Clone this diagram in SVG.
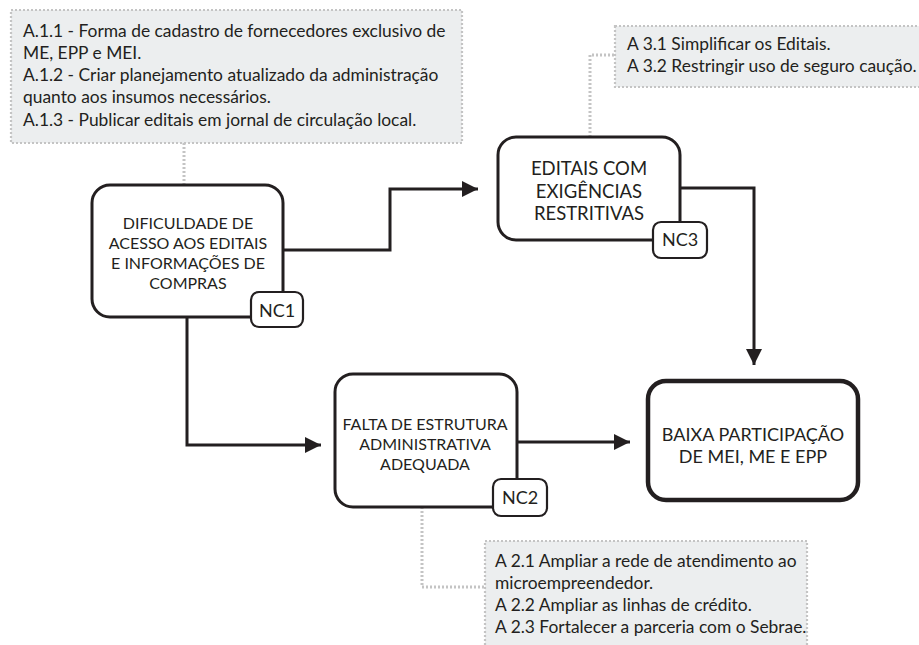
<svg xmlns="http://www.w3.org/2000/svg" width="919" height="645" viewBox="0 0 919 645">
<defs>
<style>
.note{fill:#eceeef;stroke:#c4c4c4;stroke-width:2.2;stroke-dasharray:2 2}
.node{fill:#fff;stroke:#231f20;stroke-width:3}
.final{fill:#fff;stroke:#231f20;stroke-width:4.5}
.tag{fill:#fff;stroke:#231f20;stroke-width:2.2}
.t{font-family:Lato,"Open Sans",sans-serif;fill:#231f20}
.nt{font-size:17.4px}
.ct{font-size:16px;text-anchor:middle}
.ct3{font-size:18.5px;text-anchor:middle}
.lt{font-size:18px;text-anchor:middle}
.ft{font-size:18px;text-anchor:middle}
.conn{fill:none;stroke:#231f20;stroke-width:3}
.dot{fill:none;stroke:#c4c4c4;stroke-width:3;stroke-dasharray:2 2}
</style>
<marker id="arr" markerUnits="userSpaceOnUse" markerWidth="16" markerHeight="16" viewBox="0 0 16 16" refX="16" refY="8" orient="auto">
<path d="M0,0 L16,8 L0,16 Z" fill="#231f20"/>
</marker>
</defs>

<g id="connectors">
<path class="conn" d="M283,250 H390 V189 H478" marker-end="url(#arr)"/>
<path class="conn" d="M187,317 V445 H321" marker-end="url(#arr)"/>
<path class="conn" d="M517,442 H630" marker-end="url(#arr)"/>
<path class="conn" d="M680,188 H754 V365" marker-end="url(#arr)"/>
<path class="dot" d="M184,143 V185"/>
<path class="dot" d="M590,137 V55 H615"/>
<path class="dot" d="M422,507 V587 H485"/>
</g>

<g id="note-a1">
<rect class="note" x="11" y="10" width="451" height="133"/>
<text class="t nt" x="23" y="37">A.1.1 - Forma de cadastro de fornecedores exclusivo de</text>
<text class="t nt" x="23" y="59">ME, EPP e MEI.</text>
<text class="t nt" x="23" y="81">A.1.2 - Criar planejamento atualizado da administração</text>
<text class="t nt" x="23" y="103">quanto aos insumos necessários.</text>
<text class="t nt" x="23" y="126">A.1.3 - Publicar editais em jornal de circulação local.</text>
</g>

<g id="note-a3">
<rect class="note" x="615" y="26" width="320" height="61"/>
<text class="t nt" x="627" y="50">A 3.1 Simplificar os Editais.</text>
<text class="t nt" x="627" y="72">A 3.2 Restringir uso de seguro caução.</text>
</g>

<g id="note-a2">
<rect class="note" x="485" y="541" width="322" height="130"/>
<text class="t nt" x="495" y="567">A 2.1 Ampliar a rede de atendimento ao</text>
<text class="t nt" x="495" y="589">microempreendedor.</text>
<text class="t nt" x="495" y="611">A 2.2 Ampliar as linhas de crédito.</text>
<text class="t nt" x="495" y="633">A 2.3 Fortalecer a parceria com o Sebrae.</text>
</g>

<g id="nc1">
<rect class="node" x="92" y="185" width="191" height="132" rx="18"/>
<text class="t ct" x="188" y="229">DIFICULDADE DE</text>
<text class="t ct" x="188" y="249">ACESSO AOS EDITAIS</text>
<text class="t ct" x="188" y="269">E INFORMAÇÕES DE</text>
<text class="t ct" x="188" y="289">COMPRAS</text>
<rect class="tag" x="251" y="292" width="52" height="35" rx="8"/>
<text class="t lt" x="277" y="317">NC1</text>
</g>

<g id="nc3">
<rect class="node" x="498" y="137" width="182" height="103" rx="18"/>
<text class="t ct3" x="589" y="175">EDITAIS COM</text>
<text class="t ct3" x="589" y="198">EXIGÊNCIAS</text>
<text class="t ct3" x="589" y="220">RESTRITIVAS</text>
<rect class="tag" x="653" y="222" width="54" height="36" rx="8"/>
<text class="t lt" x="680" y="246">NC3</text>
</g>

<g id="nc2">
<rect class="node" x="335" y="374" width="182" height="133" rx="18"/>
<text class="t ct" x="425" y="430">FALTA DE ESTRUTURA</text>
<text class="t ct" x="425" y="450">ADMINISTRATIVA</text>
<text class="t ct" x="425" y="470">ADEQUADA</text>
<rect class="tag" x="493" y="479" width="54" height="37" rx="8"/>
<text class="t lt" x="520" y="504">NC2</text>
</g>

<g id="final">
<rect class="final" x="648" y="381" width="210" height="119" rx="18"/>
<text class="t ft" x="753" y="441">BAIXA PARTICIPAÇÃO</text>
<text class="t ft" x="753" y="463">DE MEI, ME E EPP</text>
</g>
</svg>
